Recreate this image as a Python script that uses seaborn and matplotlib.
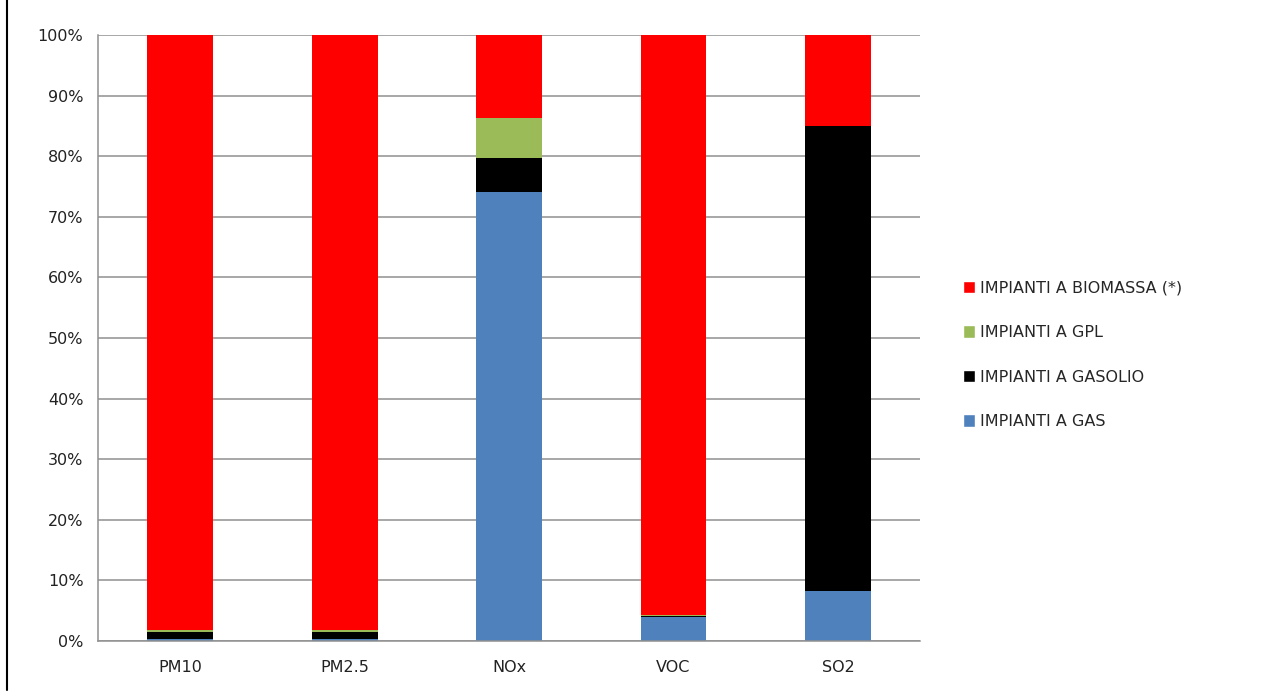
import numpy as np
import pandas as pd
import matplotlib
matplotlib.use("Agg")
import matplotlib.pyplot as plt
import seaborn as sns
from matplotlib.lines import Line2D
from matplotlib.patches import Patch
from matplotlib.ticker import PercentFormatter

# dati (percentuali)
inquinanti = ["PM10", "PM2.5", "NOx", "VOC", "SO2"]
gas = [0.3, 0.3, 74.1, 4.0, 8.2]
gasolio = [1.2, 1.2, 5.6, 0.1, 76.8]
gpl = [0.3, 0.3, 6.6, 0.2, 0.0]
biomassa = [98.2, 98.2, 13.7, 95.7, 15.0]

serie = [
    ("IMPIANTI A GAS", gas, "#4F81BD"),
    ("IMPIANTI A GASOLIO", gasolio, "#000000"),
    ("IMPIANTI A GPL", gpl, "#9BBB59"),
    ("IMPIANTI A BIOMASSA (*)", biomassa, "#FF0000"),
]

sns.set_style("white")
plt.rcParams["font.family"] = ["DejaVu Sans"]

fig = plt.figure(figsize=(12.61, 6.97), dpi=100)
ax = fig.add_axes([0.0777, 0.0803, 0.652, 0.8695])

base = np.zeros(len(inquinanti))
for nome, valori, colore in serie:
    df = pd.DataFrame({"cat": inquinanti, "val": valori})
    sns.barplot(data=df, x="cat", y="val", color=colore, width=0.4,
                bottom=base, ax=ax, saturation=1, linewidth=0)
    base = base + np.array(valori)

ax.set_ylim(0, 100)
ax.set_xlim(-0.5, 4.5)
ax.set_yticks(np.arange(0, 101, 10))
ax.yaxis.set_major_formatter(PercentFormatter(decimals=0))
ax.grid(axis="y", color="#909090", linewidth=1.1)
ax.set_axisbelow(True)
ax.set_xlabel("")
ax.set_ylabel("")
for s in ["top", "right"]:
    ax.spines[s].set_visible(False)
ax.spines["left"].set_color("#909090")
ax.spines["bottom"].set_color("#909090")
ax.spines["left"].set_linewidth(1.1)
ax.spines["bottom"].set_linewidth(1.1)

# tick x tra le categorie
ax.set_xticks(np.arange(-0.5, 5, 1), minor=True)
ax.tick_params(axis="x", which="major", length=0, labelsize=11.5, pad=14, colors="#222222")
ax.tick_params(axis="x", which="minor", length=7, color="#909090", width=1.1, direction="out")
ax.tick_params(axis="y", length=7, color="#909090", width=1.1, labelsize=11.5, labelcolor="#222222", direction="out")

# linea verticale a sinistra
fig.add_artist(Line2D([0.0058, 0.0058], [0.01, 1.0], color="black", linewidth=1.5))

handles = [Patch(facecolor=c, label=n) for n, v, c in serie][::-1]
fig.legend(handles=handles, loc="center left", bbox_to_anchor=(0.752, 0.491),
           frameon=False, fontsize=11.5, handlelength=0.8, handleheight=0.8,
           handletextpad=0.3, labelspacing=1.85)

fig.savefig("out.png", dpi=100)
